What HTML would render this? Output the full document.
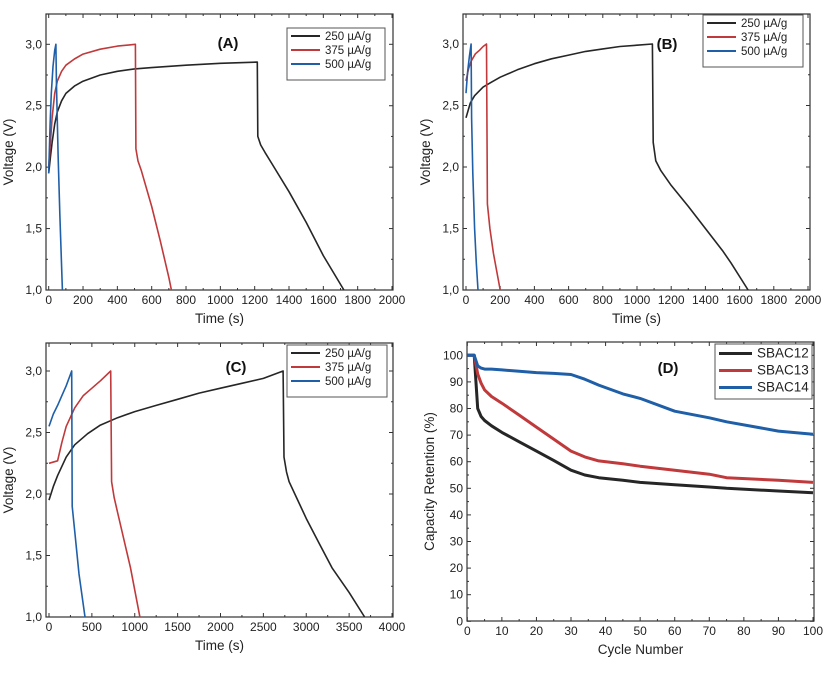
<!DOCTYPE html>
<html><head><meta charset="utf-8"><style>
body{margin:0;background:#fff;}
svg{font-family:"Liberation Sans",sans-serif;}
</style></head><body>
<svg id="fig" width="826" height="668" viewBox="0 0 826 668" xmlns="http://www.w3.org/2000/svg"></svg>
<script>
const legendRates = ["250 µA/g","375 µA/g","500 µA/g"];
const aBlackT=[0,10,20,35,50,75,100,150,200,300,400,500,600,800,1000,1215,1218,1235,1260,1300,1400,1500,1600,1720];
const aBlackV=[1.95,2.08,2.2,2.35,2.45,2.54,2.6,2.66,2.7,2.75,2.78,2.8,2.81,2.83,2.845,2.855,2.25,2.18,2.12,2.03,1.8,1.55,1.28,1.0];
const aRedT=[0,10,20,35,50,75,100,150,200,300,400,505,508,520,540,600,650,700,715];
const aRedV=[2.0,2.2,2.4,2.6,2.7,2.78,2.83,2.88,2.92,2.96,2.985,3.0,2.15,2.05,1.97,1.68,1.4,1.1,1.0];
const aBlueT=[0,8,15,25,35,42,45,55,65,80];
const aBlueV=[1.95,2.35,2.6,2.82,2.95,3.0,2.7,2.1,1.6,1.0];
const bBlackT=[0,25,50,100,150,200,300,400,500,600,700,800,900,1000,1090,1095,1110,1140,1200,1300,1400,1500,1550,1650];
const bBlackV=[2.4,2.52,2.58,2.65,2.69,2.73,2.79,2.84,2.88,2.91,2.94,2.96,2.98,2.99,3.0,2.2,2.05,1.97,1.85,1.68,1.5,1.32,1.22,1.0];
const bRedT=[0,15,30,55,80,100,120,125,140,160,180,200];
const bRedV=[2.7,2.8,2.86,2.92,2.95,2.98,3.0,1.7,1.5,1.3,1.15,1.0];
const bBlueT=[0,10,20,30,33,40,50,60,70];
const bBlueV=[2.6,2.78,2.9,3.0,2.4,1.95,1.5,1.22,1.0];
const cBlackT=[0,50,100,200,300,450,600,800,1000,1250,1500,1750,2000,2250,2500,2730,2740,2770,2800,2900,3000,3150,3300,3500,3680];
const cBlackV=[1.95,2.06,2.15,2.3,2.4,2.49,2.56,2.62,2.67,2.72,2.77,2.82,2.86,2.9,2.94,3.0,2.3,2.18,2.1,1.95,1.8,1.6,1.4,1.2,1.0];
const cRedT=[0,100,150,200,300,400,500,600,720,730,760,800,900,950,1060];
const cRedV=[2.25,2.27,2.42,2.55,2.7,2.8,2.86,2.92,3.0,2.1,1.97,1.85,1.55,1.4,1.0];
const cBlueT=[0,50,100,150,200,265,270,300,350,420];
const cBlueV=[2.55,2.65,2.72,2.8,2.88,3.0,1.9,1.7,1.35,1.0];
const dCycles=[0,2,3,4,5,7,10,15,20,25,30,34,38,45,50,60,70,75,90,100];
const dSBAC12=[100,100,80,77,75.5,73.5,71,67.5,64,60.5,56.8,55,54,53,52.2,51.3,50.5,50,49,48.3];
const dSBAC13=[100,100,93,89.5,87,84.5,82,77.5,73,68.5,64,61.8,60.3,59.2,58.3,56.8,55.3,54,53,52.2];
const dSBAC14=[100,100,96,95.2,94.8,94.8,94.5,94,93.5,93.2,92.8,91,88.8,85.5,83.8,79,76.5,75,71.5,70.3];
const dNames=["SBAC12","SBAC13","SBAC14"];
const voltTicks=["1,0","1,5","2,0","2,5","3,0"];
const voltTickVals=[1.0,1.5,2.0,2.5,3.0];
const timeTicks2000=[0,200,400,600,800,1000,1200,1400,1600,1800,2000];
const timeTicks4000=[0,500,1000,1500,2000,2500,3000,3500,4000];
const pctTicks=[0,10,20,30,40,50,60,70,80,90,100];
const cols=["#262626","#c0393b","#1f5fa8"];
const NS="http://www.w3.org/2000/svg";
const svg=document.getElementById('fig');
function el(tag,attrs,parent){const e=document.createElementNS(NS,tag);for(const k in attrs)e.setAttribute(k,attrs[k]);(parent||svg).appendChild(e);return e;}
function txt(s,attrs,parent){const t=el('text',attrs,parent);t.textContent=s;return t;}

function panel(p){
  const g=el('g',{});
  
  
  const sx=v=>p.x0+(v-p.xmin)/(p.xmax-p.xmin)*(p.x1-p.x0);
  const sy=v=>p.y0-(v-p.ymin)/(p.ymax-p.ymin)*(p.y0-p.y1);
  const fr=el('rect',{x:p.fx0,y:p.fy0,width:p.fx1-p.fx0,height:p.fy1-p.fy0,fill:'none',stroke:'#333','stroke-width':1.2},g);
  
  p.xt.forEach((v,i)=>{
    const x=sx(v);
    el('line',{x1:x,x2:x,y1:p.fy1,y2:p.fy1-4,stroke:'#333'},g);
    el('line',{x1:x,x2:x,y1:p.fy0,y2:p.fy0+4,stroke:'#333'},g);
    if(i<p.xt.length-1){const xm=sx((v+p.xt[i+1])/2);el('line',{x1:xm,x2:xm,y1:p.fy1,y2:p.fy1-2,stroke:'#333'},g);el('line',{x1:xm,x2:xm,y1:p.fy0,y2:p.fy0+2,stroke:'#333'},g);}
    const t=txt(String(v),{x:x,y:p.fy1+14,'font-size':12,'text-anchor':'middle',fill:'#222'},g);
    
  });
  p.yt.forEach((v,i)=>{
    const y=sy(v);
    el('line',{x1:p.fx0,x2:p.fx0+4,y1:y,y2:y,stroke:'#333'},g);
    el('line',{x1:p.fx1,x2:p.fx1-4,y1:y,y2:y,stroke:'#333'},g);
    if(i<p.yt.length-1){const ym=sy((v+p.yt[i+1])/2);el('line',{x1:p.fx0,x2:p.fx0+2,y1:ym,y2:ym,stroke:'#333'},g);el('line',{x1:p.fx1,x2:p.fx1-2,y1:ym,y2:ym,stroke:'#333'},g);}
    const t=txt(p.ytl[i],{x:p.fx0-4,y:y+4,'font-size':12,'text-anchor':'end',fill:'#222'},g);
    
  });
  const xl=txt(p.xlabel,{x:(p.fx0+p.fx1)/2,y:p.fy1+33,'font-size':13.5,'text-anchor':'middle',fill:'#222'},g);
  
  const yx=p.fx0-33, ym=(p.fy0+p.fy1)/2;
  const yl=txt(p.ylabel,{x:yx,y:ym,'font-size':13.5,'text-anchor':'middle',fill:'#222',transform:`rotate(-90 ${yx} ${ym})`},g);
  
  p.series.forEach((s,i)=>{
    const d=s[0].map((t,k)=>(k?'L':'M')+sx(t).toFixed(1)+','+sy(s[1][k]).toFixed(1)).join(' ');
    const path=el('path',{d:d,fill:'none',stroke:cols[i],'stroke-width':p.sw,'stroke-linejoin':'round'},g);
    
    
  });
  const lt=txt(p.letter,{x:p.lx,y:p.ly,'font-size':15,'font-weight':'bold','text-anchor':'middle',fill:'#111'},g);
  
  const lg=el('g',{},g);
  
  el('rect',{x:p.lgx,y:p.lgy,width:p.lgw,height:p.lgh,fill:'#fff',stroke:'#555','stroke-width':1},lg);
  p.names.forEach((n,i)=>{
    const y=p.lgy+p.lgRow*(i+0.5)+1;
    el('line',{x1:p.lgx+4,x2:p.lgx+p.lgLine,y1:y,y2:y,stroke:cols[i],'stroke-width':p.lgsw},lg);
    const t=txt(n,{x:p.lgx+p.lgLine+5,y:y+4,'font-size':p.lgfs,fill:'#222'},lg);
    
  });
}
const vbase={ymin:1,ymax:3,ytl:voltTicks,yt:voltTickVals,xlabel:'Time (s)',ylabel:'Voltage (V)',names:legendRates,sw:1.6,lgRow:14,lgfs:11.5,lgLine:33,lgsw:2};
panel(Object.assign({},vbase,{name:'panel-a',x0:48.7,x1:392,xmin:0,xmax:2000,y0:290,y1:44.3,fx0:46,fx1:393,fy0:14,fy1:290,xt:timeTicks2000,
  series:[[aBlackT,aBlackV],[aRedT,aRedV],[aBlueT,aBlueV]],letter:'(A)',lx:228,ly:48,lgx:287,lgy:28,lgw:98,lgh:52}));
panel(Object.assign({},vbase,{name:'panel-b',x0:466,x1:808,xmin:0,xmax:2000,y0:290,y1:44,fx0:463,fx1:810,fy0:14,fy1:290,xt:timeTicks2000,
  series:[[bBlackT,bBlackV],[bRedT,bRedV],[bBlueT,bBlueV]],letter:'(B)',lx:667,ly:49,lgx:703,lgy:15,lgw:100,lgh:52}));
panel(Object.assign({},vbase,{name:'panel-c',x0:49,x1:392,xmin:0,xmax:4000,y0:617,y1:371,fx0:46,fx1:393,fy0:343,fy1:617,xt:timeTicks4000,
  series:[[cBlackT,cBlackV],[cRedT,cRedV],[cBlueT,cBlueV]],letter:'(C)',lx:236,ly:372,lgx:287,lgy:345,lgw:100,lgh:52}));
panel({name:'panel-d',x0:467.3,x1:813,xmin:0,xmax:100,y0:621.3,y1:355.3,ymin:0,ymax:100,fx0:467,fx1:814,fy0:342,fy1:621,
  xt:pctTicks,yt:pctTicks,ytl:pctTicks.map(String),xlabel:'Cycle Number',ylabel:'Capacity Retention (%)',names:dNames,sw:3,
  series:[[dCycles,dSBAC12],[dCycles,dSBAC13],[dCycles,dSBAC14]],letter:'(D)',lx:668,ly:373,lgx:715,lgy:344,lgw:97,lgh:55,lgRow:17,lgfs:13.5,lgLine:37,lgsw:3});
</script>
</body></html>
